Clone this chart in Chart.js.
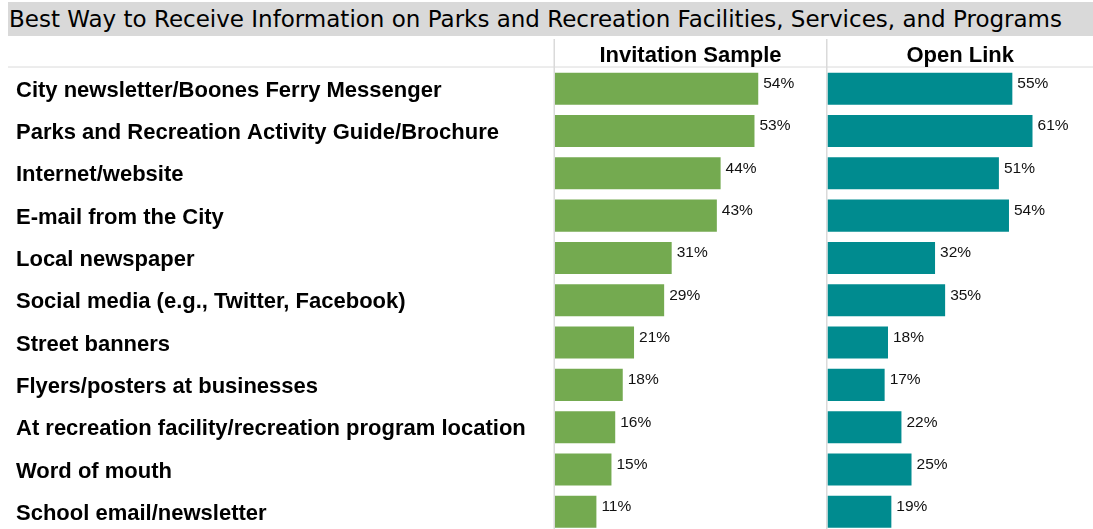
<!DOCTYPE html>
<html>
<head>
<meta charset="utf-8">
<script src="https://cdn.jsdelivr.net/npm/chart.js@4.4.1/dist/chart.umd.min.js"></script>
<style>
  html, body { margin: 0; padding: 0; background: #fff; overflow: hidden; }
  #title {
    position: absolute; left: 8px; top: 2px; width: 1085px; height: 34px;
    background: #d9d9d9; font-family: "DejaVu Sans", sans-serif; font-size: 23px;
    line-height: 34px; color: #000; padding-left: 1px; box-sizing: border-box; white-space: nowrap;
  }
  .box { position: absolute; top: 36px; height: 497px; }
  #boxA { left: 0; width: 826px; }
  #boxB { left: 826px; width: 267px; }
</style>
</head>
<body>
<div id="title">Best Way to Receive Information on Parks and Recreation Facilities, Services, and Programs</div>
<div class="box" id="boxA"><canvas id="chartA"></canvas></div>
<div class="box" id="boxB"><canvas id="chartB"></canvas></div>
<script>
const categories = [
  "City newsletter/Boones Ferry Messenger",
  "Parks and Recreation Activity Guide/Brochure",
  "Internet/website",
  "E-mail from the City",
  "Local newspaper",
  "Social media (e.g., Twitter, Facebook)",
  "Street banners",
  "Flyers/posters at businesses",
  "At recreation facility/recreation program location",
  "Word of mouth",
  "School email/newsletter"
];
const invitationSample = [54, 53, 44, 43, 31, 29, 21, 18, 16, 15, 11];
const openLink = [55, 61, 51, 54, 32, 35, 18, 17, 22, 25, 19];

Chart.defaults.font.family = '"Liberation Sans", Arial, sans-serif';
Chart.defaults.color = '#000';

// light grey panel separators: vertical at the panel start, horizontal under the header
const panelLines = {
  id: 'panelLines',
  beforeDraw(chart, args, opts) {
    const { ctx, chartArea } = chart;
    ctx.save();
    ctx.strokeStyle = '#dadada';
    ctx.lineWidth = 1.5;
    ctx.beginPath();
    ctx.moveTo(chartArea.left - 0.75, 3);
    ctx.lineTo(chartArea.left - 0.75, chart.height);
    ctx.stroke();
    ctx.lineWidth = 1;
    ctx.beginPath();
    ctx.moveTo(opts.hStart, chartArea.top - 0.5);
    ctx.lineTo(chart.width, chartArea.top - 0.5);
    ctx.stroke();
    ctx.restore();
  }
};

// percentage next to each bar, near the bar's top edge
const pctLabels = {
  id: 'pctLabels',
  afterDatasetsDraw(chart) {
    const { ctx } = chart;
    const ds = chart.data.datasets[0];
    ctx.save();
    ctx.font = '15.5px "Liberation Sans", Arial, sans-serif';
    ctx.fillStyle = '#111';
    ctx.textAlign = 'left';
    ctx.textBaseline = 'alphabetic';
    chart.getDatasetMeta(0).data.forEach((bar, i) => {
      ctx.fillText(ds.data[i] + '%', bar.x + 5, bar.y - bar.height / 2 + 15.5);
    });
    ctx.restore();
  }
};

function makeChart(id, values, color, header, maxVal, showLabels) {
  return new Chart(document.getElementById(id), {
    type: 'bar',
    data: {
      labels: categories,
      datasets: [{
        data: values,
        backgroundColor: color,
        barPercentage: 0.757,
        categoryPercentage: 1
      }]
    },
    options: {
      indexAxis: 'y',
      responsive: true,
      maintainAspectRatio: false,
      animation: false,
      layout: { padding: { left: showLabels ? 16 : 1.5, right: 0, top: 0, bottom: 0 } },
      plugins: {
        legend: { display: false },
        tooltip: { enabled: false },
        panelLines: { hStart: showLabels ? 8 : 0 }
      },
      scales: {
        x: {
          position: 'top',
          min: 0,
          max: maxVal,
          ticks: { display: false },
          grid: { display: false, drawTicks: false },
          border: { display: false },
          title: {
            display: true,
            text: header,
            color: '#000',
            font: { size: 22, weight: 'bold', lineHeight: 1 },
            padding: { top: 8.6, bottom: 0.9 }
          }
        },
        y: {
          display: showLabels,
          ticks: { crossAlign: 'far', padding: 0, labelOffset: 2, color: '#000', font: { size: 22, weight: 'bold' } },
          grid: { display: false, drawTicks: false },
          border: { display: false },
          afterFit(s) {
            if (!showLabels) return;
            s.width = 539;
            s.paddingTop = 0;
            s.paddingBottom = 0;
          }
        }
      }
    },
    plugins: [panelLines, pctLabels]
  });
}

makeChart('chartA', invitationSample, '#74aa50', 'Invitation Sample', 72, true);
makeChart('chartB', openLink, '#008b8f', 'Open Link', 79, false);
</script>
</body>
</html>
